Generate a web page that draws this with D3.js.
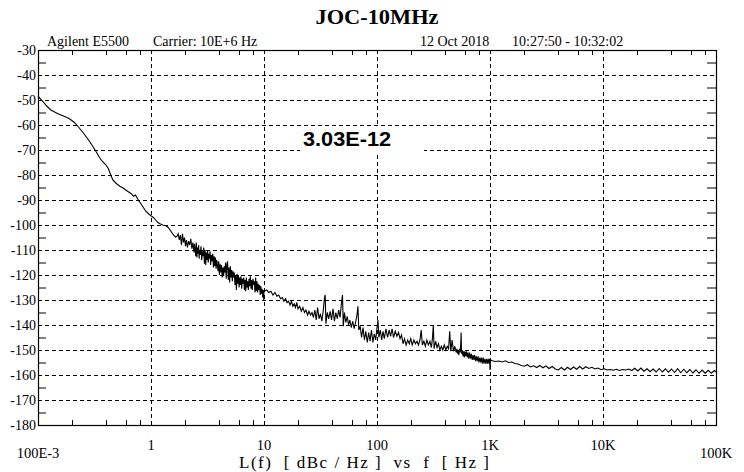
<!DOCTYPE html>
<html>
<head>
<meta charset="utf-8">
<script src="https://cdn.jsdelivr.net/npm/d3@7"></script>
<style>
  html, body { margin: 0; padding: 0; background: #fff; }
  svg { display: block; }
  text { fill: #000; }
</style>
</head>
<body>
<svg id="chart" width="744" height="472"></svg>
<script>
// ---- data ----
const titleText = "JOC-10MHz";
const instrumentText = "Agilent E5500";
const carrierText = "Carrier: 10E+6 Hz";
const dateText = "12 Oct 2018";
const timeText = "10:27:50 - 10:32:02";
const annotationText = "3.03E-12";
const axisTitleText = "L(f)  [ dBc / Hz ]  vs  f  [ Hz ]";

const yTicks = [-30, -40, -50, -60, -70, -80, -90, -100, -110, -120, -130, -140, -150, -160, -170, -180];
const xTicks = [0.1, 1, 10, 100, 1000, 10000, 100000];
const xTickLabels = ["100E-3", "1", "10", "100", "1K", "10K", "100K"];

// [offset frequency Hz, L(f) dBc/Hz]
const spectrumPoints = [
  [0.1,-48.5],[0.11,-50.5],[0.12,-52.5],[0.13,-54],[0.15,-55.5],[0.17,-56.5],[0.19,-57.5],[0.21,-59],
  [0.23,-61],[0.25,-63],[0.27,-65],[0.29,-67],[0.31,-69],[0.33,-71],[0.35,-73],[0.37,-74.5],
  [0.40,-76],[0.42,-77.5],[0.44,-80],[0.46,-82],[0.49,-83.3],[0.53,-84.5],[0.57,-85.3],[0.62,-86.5],
  [0.67,-87.5],[0.70,-88.5],[0.73,-88],[0.76,-89.5],[0.80,-91],[0.85,-92.8],[0.90,-94.5],[0.95,-95.5],
  [1.0,-96.3],[1.05,-97],[1.1,-98],[1.15,-99],[1.2,-99.5],[1.27,-100],[1.35,-100.3],[1.42,-101],
  [1.5,-102.5],[1.58,-104],[1.65,-104.8],
  [1.70,-104.5],[1.74,-103.5],[1.78,-106],[1.82,-104],[1.86,-108],[1.90,-103.5],[1.94,-107],[1.98,-105],
  [2.02,-108.5],[2.06,-106],[2.10,-109],[2.15,-106.5],[2.20,-108],[2.25,-105.5],[2.30,-109.5],[2.35,-107],
  [2.40,-111],[2.43,-107.5],[2.46,-110],[2.49,-112.5],[2.52,-107],[2.55,-113],[2.58,-109],[2.61,-111.5],
  [2.64,-108],[2.67,-113.5],[2.70,-110],[2.73,-112],[2.77,-108.5],[2.81,-114],[2.85,-110.5],[2.89,-112.5],
  [2.93,-109],[2.97,-115.5],[3.01,-110],[3.05,-116],[3.09,-111],[3.13,-114],[3.17,-110],[3.21,-115],
  [3.25,-111.5],[3.29,-113.5],[3.33,-110.5],[3.37,-116],[3.42,-112],[3.47,-114.5],[3.52,-111.5],[3.57,-117],
  [3.62,-112.5],[3.67,-116.5],[3.72,-113],[3.77,-117.5],[3.82,-114],[3.87,-116],[3.92,-118.5],[3.97,-114.5],
  [4.03,-120],[4.09,-115.5],[4.15,-119],[4.21,-116],[4.27,-121],[4.33,-117],[4.39,-120.5],[4.45,-116.5],
  [4.51,-119],[4.57,-115],[4.63,-121.5],[4.69,-116],[4.76,-114.5],[4.83,-122],[4.90,-117],[4.97,-123],
  [5.04,-116.5],[5.11,-121],[5.18,-118],[5.25,-122.5],[5.32,-118.5],[5.39,-121],[5.46,-119],[5.54,-124],
  [5.62,-120],[5.70,-126],[5.78,-119.5],[5.86,-123.5],[5.94,-120],[6.02,-125],[6.10,-121],[6.18,-124],
  [6.26,-120.5],[6.35,-125.5],[6.44,-121.5],[6.53,-123.5],[6.62,-121],[6.71,-126],[6.80,-122],[6.89,-126.5],
  [6.98,-121],[7.07,-125],[7.17,-122.5],[7.27,-126],[7.37,-121.5],[7.47,-124.5],[7.57,-120.5],[7.67,-125.5],
  [7.77,-122],[7.88,-126],[7.99,-121.5],[8.10,-124],[8.21,-122.5],[8.32,-127],[8.43,-121],[8.54,-126.5],
  [8.66,-122.5],[8.78,-127],[8.90,-123.5],[9.02,-126],[9.14,-124],[9.26,-128],[9.38,-124.5],[9.50,-127.5],
  [9.62,-125.5],[9.74,-129],[9.86,-126],[9.95,-130],[10.0,-126.5],
  [10.6,-126],[11.0,-127],[11.5,-126.5],[12.0,-128],[12.5,-127],[13.0,-128.5],[13.5,-128],[14.0,-129.5],
  [14.5,-129],[15.0,-130.5],[15.5,-129.5],[16.0,-131],[16.5,-130.5],[17.0,-132],[17.5,-130.5],[18.0,-132.5],
  [18.5,-131.5],[19.0,-133],[19.5,-131],[20.0,-133.5],[20.7,-132.5],[21.4,-134.5],[22.1,-133],[22.8,-135],
  [23.5,-134],[24.3,-136],[25.0,-134.5],[25.8,-136],[26.6,-135],[27.4,-137],[28.2,-134],[29.0,-138],
  [29.8,-133],[30.7,-137.5],[31.6,-135.5],[32.5,-138.5],[33.5,-134],[34.3,-129],[34.8,-128],[35.3,-139.5],
  [36.3,-135],[37.4,-137.5],[38.5,-134.5],[39.6,-138],[40.8,-133.5],[42.0,-138.5],[43.2,-135],[44.5,-137.5],
  [45.8,-134],[47.1,-137],[48.5,-131],[49.5,-128],[50.3,-140.5],[51.5,-135],[53.0,-139],[54.5,-136.5],
  [56.0,-140],[57.5,-138],[59.2,-141],[61.0,-138.5],[62.8,-141.5],[64.6,-139],[66.5,-136],[67.8,-132.5],
  [69.0,-142],[71.0,-140.5],[73.0,-145],[75.2,-141],[77.4,-146],[79.6,-142.5],[82.0,-147],[84.4,-143],
  [86.8,-146.5],[89.3,-142],[92.0,-147],[94.6,-143.5],[97.4,-146],[100,-141],[102,-138],[104,-145],
  [107,-142],[110,-146],[113,-142.5],
  [116,-145.5],[120,-141.5],[124,-145],[128,-142],[132,-144.5],[136,-141.5],[140,-145],[145,-142.5],
  [150,-144.5],[155,-143],[160,-145.5],[165,-144],[170,-147.5],[175,-145.5],[181,-148],[187,-146],
  [193,-147.5],[199,-145.5],[205,-148],[212,-146],[219,-147.5],[226,-146.5],[233,-148],[240,-146],
  [246,-142],[252,-148],[260,-146.5],[268,-148.5],[276,-146],[285,-148],[294,-146.5],[303,-149],
  [310,-145],[315,-140],[320,-149.5],[330,-146.5],[340,-149],[350,-147.5],[360,-150],[371,-148.5],
  [382,-150],[394,-148],[406,-150],[418,-148.5],[430,-149.5],[440,-142.5],[450,-150.5],[462,-146],
  [475,-150.5],[488,-148.5],
  [502,-151],[509,-149.5],[516,-151.5],[523,-150],[530,-152],[537,-149.5],[545,-151],[550,-148],
  [555,-143],[560,-151.5],[568,-150],[576,-152.5],[584,-150.5],[592,-153],[600,-150.5],[610,-152.5],
  [620,-150.5],[630,-153],[640,-151],[650,-153.5],[660,-151],[672,-153.5],[684,-151.5],[696,-154],
  [708,-152],[720,-154],[732,-152],[745,-154.5],[758,-152.5],[771,-154.5],[784,-152.5],[798,-155],
  [812,-153],[826,-155],[840,-153],[855,-155.5],[870,-153],[885,-155.5],[900,-153.5],[916,-155.5],
  [932,-153.5],[948,-155.5],[964,-153.5],[980,-155.5],[993,-153.5],[1000,-158],[1010,-154],
  [1050,-154.3],[1120,-154.6],[1200,-154.4],[1280,-154.8],[1370,-154.3],[1460,-155],[1560,-154.8],[1660,-155.4],
  [1770,-155.6],[1890,-156.2],[2010,-156.5],[2140,-155.9],[2280,-156.8],[2430,-156.3],[2590,-157],[2760,-156.2],
  [2940,-157.1],[3130,-156.4],[3330,-157.4],[3550,-156.6],[3780,-157.6],[4020,-158],[4280,-157],[4560,-158],
  [4850,-156.9],[5160,-157.8],[5490,-156.8],[5840,-157.7],[6220,-156.6],[6620,-157.6],[7050,-156.7],[7500,-157.4],
  [7980,-156.9],[8490,-157.6],[9040,-157.2],[9620,-157.9],[10240,-157.5],[10900,-158],[11600,-157.8],[12350,-158.1],
  [13140,-157.7],[13990,-158.2],[14890,-157.8],[15850,-158],[16870,-157.6],[17950,-158.2],[19110,-157.3],[20340,-158.4],
  [21650,-157.2],[23040,-158.5],[24520,-157.5],[26100,-158.7],[27780,-157.6],[29570,-158.8],[31470,-157.4],[33500,-158.8],
  [35650,-157.5],[37950,-158.9],[40390,-157.6],[42990,-159],[45760,-157.5],[48700,-159.1],[51840,-157.7],[55170,-159.1],
  [58720,-157.8],[62500,-159.2],[66530,-157.9],[70810,-159.3],[75370,-158],[80220,-159.3],[85380,-158.1],[90880,-159.3],
  [96730,-158.2],[100000,-158.8]
];

// ---- layout ----
const svg = d3.select("#chart");
const plot = { left: 38, right: 716, top: 50, bottom: 425 };

const x = d3.scaleLog().domain([0.1, 100000]).range([plot.left, plot.right]);
const y = d3.scaleLinear().domain([-180, -30]).range([plot.bottom, plot.top]);

const serif = "'Liberation Serif', 'Times New Roman', serif";
const sans = "'Liberation Sans', Arial, sans-serif";

// grid lines
const gridY = yTicks.filter(v => v !== -30 && v !== -180);
const gridX = xTicks.filter(v => v !== 0.1 && v !== 100000);

svg.append("g").selectAll("line").data(gridY).join("line")
  .attr("x1", plot.left).attr("x2", plot.right)
  .attr("y1", d => y(d) + 0.5).attr("y2", d => y(d) + 0.5)
  .attr("stroke", "#000").attr("stroke-width", 1).attr("stroke-dasharray", "4,3");

svg.append("g").selectAll("line").data(gridX).join("line")
  .attr("x1", d => Math.round(x(d)) + 0.5).attr("x2", d => Math.round(x(d)) + 0.5)
  .attr("y1", plot.top).attr("y2", plot.bottom)
  .attr("stroke", "#000").attr("stroke-width", 1).attr("stroke-dasharray", "4,3");

// minor ticks
const minorX = [];
for (let i = 0; i < xTicks.length - 1; i++) {
  [2, 4, 6, 8].forEach(m => minorX.push(xTicks[i] * m));
}
const minorY = yTicks.slice(0, -1).map(v => v - 5);

const axisG = svg.append("g").attr("stroke", "#000").attr("stroke-width", 1);
axisG.selectAll(".mt").data(minorX).join("line")
  .attr("x1", d => Math.round(x(d)) + 0.5).attr("x2", d => Math.round(x(d)) + 0.5)
  .attr("y1", plot.top).attr("y2", plot.top + 5);
axisG.selectAll(".mb").data(minorX).join("line")
  .attr("x1", d => Math.round(x(d)) + 0.5).attr("x2", d => Math.round(x(d)) + 0.5)
  .attr("y1", plot.bottom).attr("y2", plot.bottom - 5);
axisG.selectAll(".ml").data(minorY).join("line")
  .attr("x1", plot.left).attr("x2", plot.left + 8)
  .attr("y1", d => y(d) + 0.5).attr("y2", d => y(d) + 0.5);
axisG.selectAll(".mr").data(minorY).join("line")
  .attr("x1", plot.right).attr("x2", plot.right - 9)
  .attr("y1", d => y(d) + 0.5).attr("y2", d => y(d) + 0.5);

// annotation background box (covers grid)
svg.append("rect")
  .attr("x", 300).attr("y", 127).attr("width", 124).attr("height", 26)
  .attr("fill", "#fff");

// curve
const line = d3.line().x(d => x(d[0])).y(d => y(d[1]));
svg.append("path")
  .datum(spectrumPoints)
  .attr("d", line)
  .attr("fill", "none")
  .attr("stroke", "#000")
  .attr("stroke-width", 1.1)
  .attr("stroke-linejoin", "miter");

// frame
svg.append("rect")
  .attr("x", plot.left + 0.5).attr("y", plot.top + 0.5)
  .attr("width", plot.right - plot.left).attr("height", plot.bottom - plot.top)
  .attr("fill", "none").attr("stroke", "#000").attr("stroke-width", 1.2);

// y labels
svg.append("g").selectAll("text").data(yTicks).join("text")
  .attr("x", 36).attr("y", d => y(d) + 5)
  .attr("text-anchor", "end")
  .attr("font-family", serif).attr("font-size", 14)
  .text(d => d);

// x labels
svg.append("g").selectAll("text").data(xTicks).join("text")
  .attr("x", d => x(d))
  .attr("y", (d, i) => (i === 0 || i === xTicks.length - 1) ? 458 : 450)
  .attr("text-anchor", "middle")
  .attr("font-family", serif).attr("font-size", 14.5)
  .text((d, i) => xTickLabels[i]);

// header texts
svg.append("text").attr("x", 377).attr("y", 24).attr("text-anchor", "middle")
  .attr("font-family", serif).attr("font-weight", "bold").attr("font-size", 20)
  .attr("textLength", 123).attr("lengthAdjust", "spacingAndGlyphs")
  .text(titleText);
svg.append("text").attr("x", 47).attr("y", 46)
  .attr("font-family", serif).attr("font-size", 14).text(instrumentText);
svg.append("text").attr("x", 153).attr("y", 46)
  .attr("font-family", serif).attr("font-size", 14).text(carrierText);
svg.append("text").attr("x", 420).attr("y", 46)
  .attr("font-family", serif).attr("font-size", 14).text(dateText);
svg.append("text").attr("x", 512).attr("y", 46)
  .attr("font-family", serif).attr("font-size", 14).text(timeText);

// annotation
svg.append("text").attr("x", 303).attr("y", 146)
  .attr("font-family", sans).attr("font-weight", "bold").attr("font-size", 20)
  .attr("textLength", 88).attr("lengthAdjust", "spacingAndGlyphs")
  .text(annotationText);

// axis title
svg.append("text").attr("x", 239).attr("y", 468)
  .attr("font-family", serif).attr("font-size", 17)
  .attr("textLength", 250).attr("lengthAdjust", "spacing")
  .style("white-space", "pre")
  .text(axisTitleText);
</script>
</body>
</html>
